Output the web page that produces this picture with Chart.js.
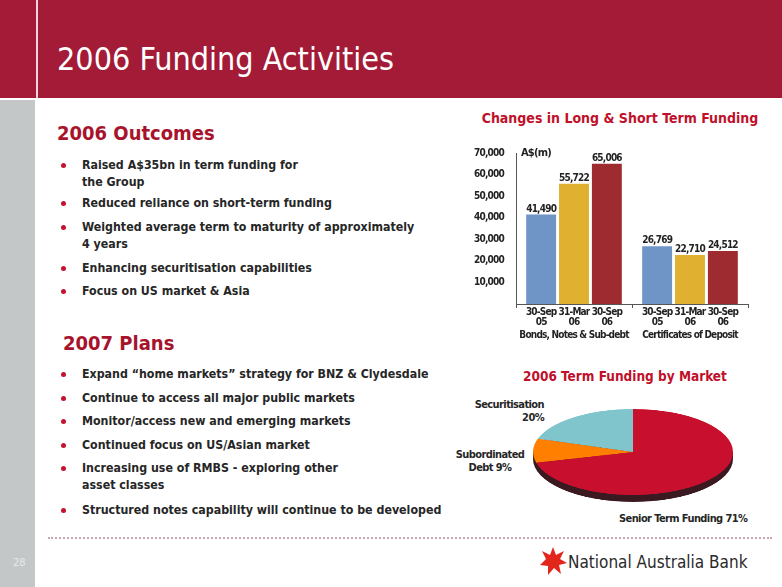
<!DOCTYPE html>
<html>
<head>
<meta charset="utf-8">
<script src="https://cdn.jsdelivr.net/npm/chart.js@4.4.1/dist/chart.umd.min.js"></script>
<style>
  body { margin: 0; width: 782px; height: 587px; overflow: hidden; background: #fff; position: relative;
         font-family: "DejaVu Sans Condensed", "DejaVu Sans", sans-serif; color: #222; }
  .abs { position: absolute; }
  #header { left: 0; top: 0; width: 782px; height: 98px; background: #a31b36; }
  #vline { left: 36px; top: 0; width: 2px; height: 98px; background: #efd6dc; }
  #strip { left: 0; top: 100px; width: 35px; height: 487px; background: #c3c7c7; }
  #title { left: 57px; top: 40px; font-size: 32px; color: #fff; white-space: nowrap; }
  .head { font-size: 20px; font-weight: bold; color: #a8132c; white-space: nowrap; }
  .item { left: 82px; font-size: 12.3px; font-weight: bold; line-height: 17px; white-space: nowrap; color: #262626; }
  .item::before { content: ""; position: absolute; left: -21px; top: 6px; width: 5px; height: 5px; border-radius: 50%; background: #c4122f; }
  .ctitle { text-align: center; font-size: 14px; font-weight: bold; color: #c0102a; white-space: nowrap; }
  .plab { font-size: 11px; font-weight: bold; letter-spacing: -0.6px; line-height: 13px; white-space: nowrap; color: #262626; }
  #dots { left: 48px; top: 537px; width: 724px; border-top: 2px dotted #c9a9ae; }
  #page { left: 13px; top: 556px; font-size: 11px; color: #e6e9e9; }
  #logo { left: 568px; top: 552px; font-size: 17px; color: #2a2a2a; white-space: nowrap; }
</style>
</head>
<body>
<div class="abs" id="header"></div>
<div class="abs" id="vline"></div>
<div class="abs" id="strip"></div>
<div class="abs" id="title">2006 Funding Activities</div>

<div class="abs head" style="left:57px; top:121px;">2006 Outcomes</div>
<div class="abs item" style="top:157px;">Raised A$35bn in term funding for<br>the Group</div>
<div class="abs item" style="top:195px;">Reduced reliance on short-term funding</div>
<div class="abs item" style="top:219px;">Weighted average term to maturity of approximately<br>4 years</div>
<div class="abs item" style="top:260px;">Enhancing securitisation capabilities</div>
<div class="abs item" style="top:283px;">Focus on US market &amp; Asia</div>

<div class="abs head" style="left:63px; top:331px;">2007 Plans</div>
<div class="abs item" style="top:366px;">Expand “home markets” strategy for BNZ &amp; Clydesdale</div>
<div class="abs item" style="top:390px;">Continue to access all major public markets</div>
<div class="abs item" style="top:413px;">Monitor/access new and emerging markets</div>
<div class="abs item" style="top:437px;">Continued focus on US/Asian market</div>
<div class="abs item" style="top:460px;">Increasing use of RMBS - exploring other<br>asset classes</div>
<div class="abs item" style="top:502px;">Structured notes capability will continue to be developed</div>

<div class="abs ctitle" style="left:470px; top:110px; width:300px;">Changes in Long &amp; Short Term Funding</div>
<div class="abs" style="left:470px; top:100px; width:300px; height:245px;">
  <canvas id="barChart"></canvas>
</div>

<div class="abs ctitle" style="left:500px; top:368px; width:250px; font-size:13.5px;">2006 Term Funding by Market</div>
<div class="abs plab" style="left:444px; top:398px; text-align:right; width:100px;">Securitisation<br>20%</div>
<div class="abs plab" style="left:440px; top:448px; width:100px; text-align:center;">Subordinated<br>Debt 9%</div>
<div class="abs plab" style="left:619px; top:512px;">Senior Term Funding 71%</div>
<div class="abs" style="left:533px; top:409px; width:200px; height:94px; overflow:hidden;">
  <canvas id="pieChart" width="200" height="216" style="transform: scaleY(0.43); transform-origin: 0 0;"></canvas>
</div>

<div class="abs" id="dots"></div>
<div class="abs" id="page">28</div>
<svg class="abs" style="left:539px; top:546px;" width="28" height="30" viewBox="-14 -15 28 30">
  <polygon fill="#e3261c" points="0,-14 3,-6 11,-10 7,-2 14,2 6,4 8,13 1,7 -5,14 -5,5 -13,4 -7,-2 -11,-10 -3,-6"></polygon>
</svg>
<div class="abs" id="logo">National Australia Bank</div>

<script>
const groups = ['Bonds, Notes & Sub-debt', 'Certificates of Deposit'];
const periods = ['30-Sep 05', '31-Mar 06', '30-Sep 06'];
const sep05 = [41490, 26769];
const mar06 = [55722, 22710];
const sep06 = [65006, 24512];
const barColors = ['#6f94c6', '#e0b030', '#9e2b30'];
const unitLabel = 'A$(m)';

const marketLabels = ['Senior Term Funding', 'Subordinated Debt', 'Securitisation'];
const marketShares = [71, 9, 20];
const marketColors = ['#c8102e', '#ff8000', '#80c4cc'];

const fontFamily = '"DejaVu Sans Condensed", "DejaVu Sans", sans-serif';

// tighter letters so the labels fit under the bars like the original
const tightText = {
  id: 'tightText',
  beforeLayout(chart) { chart.ctx.letterSpacing = '-0.8px'; },
  beforeDraw(chart) { chart.ctx.letterSpacing = '-0.8px'; }
};

// value labels above bars, period labels under each bar, unit label
const barLabels = {
  id: 'barLabels',
  afterDatasetsDraw(chart) {
    const ctx = chart.ctx;
    const area = chart.chartArea;
    ctx.save();
    ctx.fillStyle = '#222';
    ctx.textAlign = 'center';
    ctx.font = 'bold 10px ' + fontFamily;
    chart.data.datasets.forEach((ds, i) => {
      const lines = ds.label.split(' ');
      chart.getDatasetMeta(i).data.forEach((bar, j) => {
        ctx.textBaseline = 'alphabetic';
        ctx.fillText(ds.data[j].toLocaleString('en-US'), bar.x, bar.y - 3);
        ctx.textBaseline = 'middle';
        ctx.fillText(lines[0], bar.x, area.bottom + 8);
        ctx.fillText(lines[1], bar.x, area.bottom + 18);
      });
    });
    ctx.textAlign = 'left';
    ctx.font = 'bold 11px ' + fontFamily;
    ctx.fillText(unitLabel, area.left + 5, area.top);
    ctx.restore();
  }
};

new Chart(document.getElementById('barChart'), {
  type: 'bar',
  data: {
    labels: groups,
    datasets: [
      { label: periods[0], data: sep05, backgroundColor: barColors[0] },
      { label: periods[1], data: mar06, backgroundColor: barColors[1] },
      { label: periods[2], data: sep06, backgroundColor: barColors[2] }
    ]
  },
  options: {
    responsive: true,
    maintainAspectRatio: false,
    animation: false,
    categoryPercentage: 0.85,
    barPercentage: 0.91,
    layout: { padding: { top: 53, right: 22 } },
    plugins: {
      legend: { display: false },
      tooltip: { enabled: false }
    },
    scales: {
      x: {
        afterFit(axis) { axis.height = 41; axis.paddingLeft = 0; axis.paddingRight = 0; },
        grid: { drawOnChartArea: false, tickLength: 4, color: '#555' },
        border: { color: '#555' },
        ticks: {
          color: '#222', padding: 21, maxRotation: 0, minRotation: 0, autoSkip: false,
          font: { size: 10, weight: 'bold', family: fontFamily }
        }
      },
      y: {
        min: 0,
        max: 70000,
        afterFit(axis) { axis.width = 46; axis.paddingTop = 0; axis.paddingBottom = 0; },
        grid: { display: false },
        border: { color: '#555' },
        ticks: {
          stepSize: 10000,
          padding: 4,
          color: '#222',
          font: { size: 10, weight: 'bold', family: fontFamily },
          callback: v => v === 0 ? '' : v.toLocaleString('en-US')
        }
      }
    }
  },
  plugins: [tightText, barLabels]
});

// dark rim under the tilted pie
const pieSide = {
  id: 'pieSide',
  beforeDatasetsDraw(chart) {
    const arc = chart.getDatasetMeta(0).data[0];
    const ctx = chart.ctx;
    const depth = 16;
    ctx.save();
    ctx.fillStyle = '#3a1a20';
    ctx.beginPath();
    ctx.arc(arc.x, arc.y + depth, arc.outerRadius, 0, Math.PI * 2);
    ctx.fill();
    ctx.fillRect(arc.x - arc.outerRadius, arc.y, arc.outerRadius * 2, depth);
    ctx.restore();
  }
};

new Chart(document.getElementById('pieChart'), {
  type: 'pie',
  data: {
    labels: marketLabels,
    datasets: [{ data: marketShares, backgroundColor: marketColors, borderWidth: 0 }]
  },
  options: {
    responsive: false,
    animation: false,
    layout: { padding: { bottom: 16 } },
    plugins: { legend: { display: false }, tooltip: { enabled: false } }
  },
  plugins: [pieSide]
});
</script>
</body>
</html>
